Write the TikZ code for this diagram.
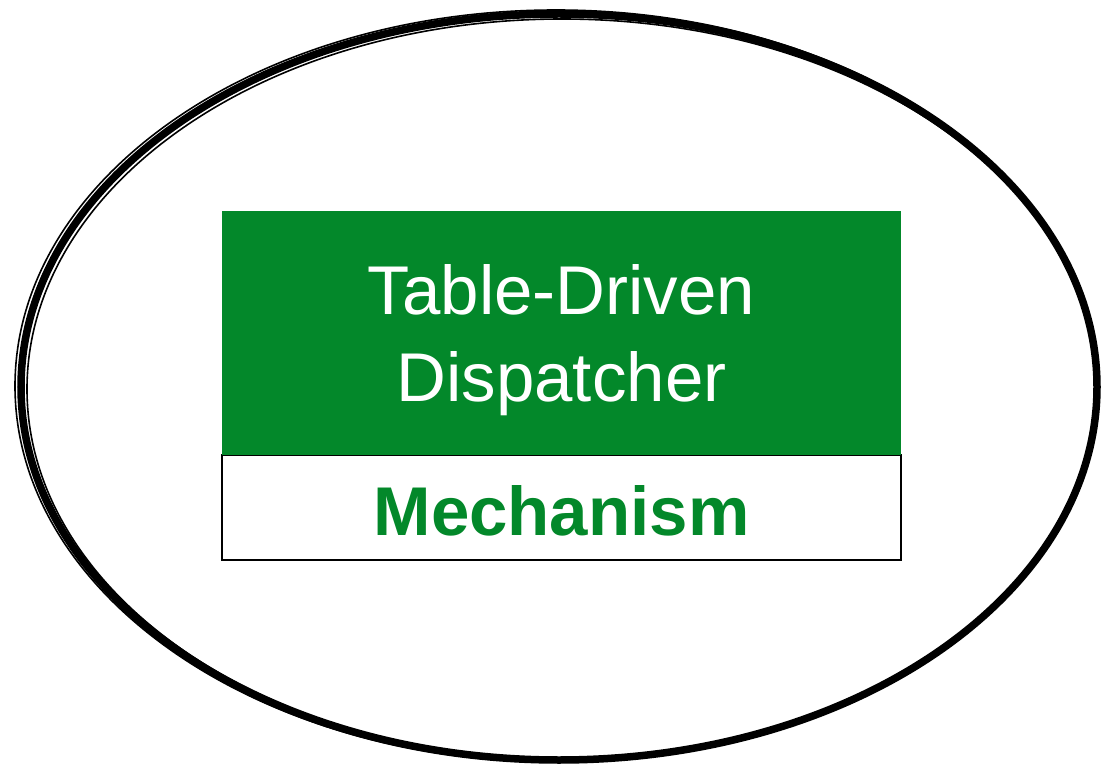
\documentclass[tikz,border=0pt]{standalone}
\usepackage{fontspec}
\setmainfont{Liberation Sans}
\usetikzlibrary{positioning}
\definecolor{dispgreen}{RGB}{3,136,42}
\tikzset{
  sketch/.style={draw=black,line width=7.5pt},
  sketchthin/.style={draw=black,line width=1.6pt},
  titlebox/.style={rectangle,fill=dispgreen,text=white,minimum width=679pt,
    minimum height=244pt,inner sep=0pt,align=center,text depth=0pt,
    font=\fontsize{69}{87}\selectfont},
  kindbox/.style={rectangle,draw=black,line width=2pt,fill=white,text=dispgreen,
    minimum width=679pt,minimum height=105pt,inner sep=0pt,text height=56pt,
    font=\fontsize{69}{80}\selectfont\bfseries},
}

\begin{document}
\begin{tikzpicture}[x=1pt,y=-1pt]
  \useasboundingbox (0,0) rectangle (1104,770);
  % hand-drawn outline
  \draw[sketch] (559,387) ellipse [x radius=538pt, y radius=373pt];
  \draw[sketchthin] (556,386) ellipse [x radius=541pt, y radius=376pt];
  \draw[sketchthin] (562,389) ellipse [x radius=535pt, y radius=370pt];
  \node[kindbox] (mech) at (561.5,507.5) {Mechanism};
  \node[titlebox,above=-1pt of mech] (disp) {Table-Driven\\Dispatcher};
\end{tikzpicture}
\end{document}
